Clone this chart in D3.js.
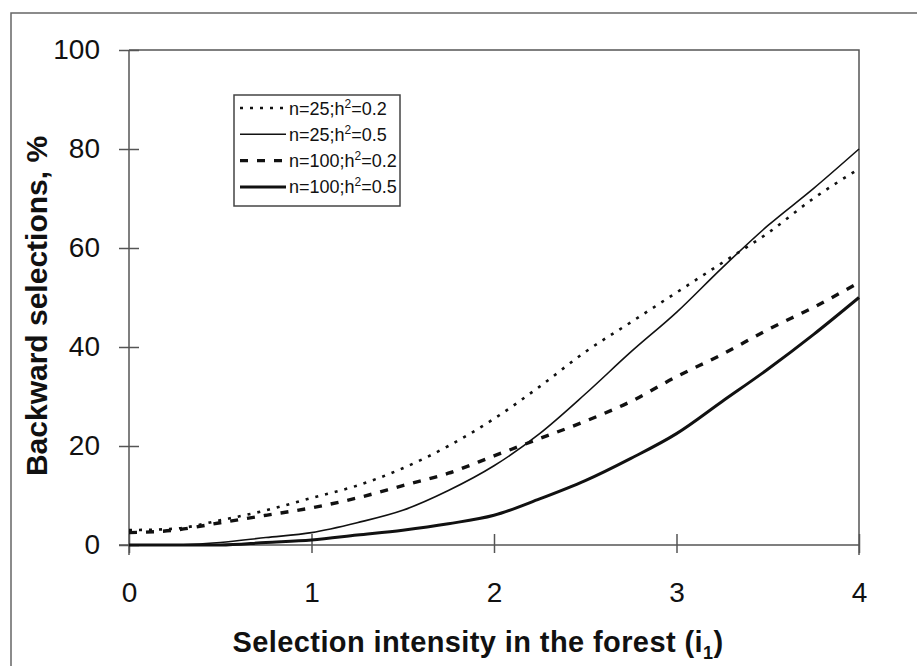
<!DOCTYPE html>
<html>
<head>
<meta charset="utf-8">
<script src="https://cdn.jsdelivr.net/npm/d3@7"></script>
<style>
  body { margin: 0; background: #fff; }
  text { font-family: "Liberation Sans", Arial, sans-serif; fill: #111; }
</style>
</head>
<body>
<div id="chart"></div>
<script>
// DATA
var xValues = [0, 0.25, 0.5, 0.75, 1, 1.25, 1.5, 1.75, 2, 2.25, 2.5, 2.75, 3, 3.25, 3.5, 3.75, 4];
var n25h02  = [3, 3.3, 5, 7, 9.5, 12, 15.5, 20, 25.5, 32, 39, 45, 51, 57, 63, 70, 76];
var n25h05  = [0, 0, 0.5, 1.5, 2.5, 4.5, 7, 11, 16, 22.5, 30.5, 39, 47, 56, 64.5, 72, 80];
var n100h02 = [2.5, 3, 4.5, 6, 7.5, 9.5, 12, 14.5, 18, 21.5, 25, 29, 34, 38.5, 43.5, 48, 53];
var n100h05 = [0, 0, 0, 0.5, 1, 2, 3, 4.3, 6, 9.3, 13, 17.5, 22.5, 29, 35.5, 42.5, 50];
var xTicks = [0, 1, 2, 3, 4];
var yTicks = [0, 20, 40, 60, 80, 100];

var series = [
  {n: "25",  h: "0.2", values: n25h02,  width: 2.6, dash: "3,7"},
  {n: "25",  h: "0.5", values: n25h05,  width: 1.6, dash: null},
  {n: "100", h: "0.2", values: n100h02, width: 3.4, dash: "8,9"},
  {n: "100", h: "0.5", values: n100h05, width: 3.0, dash: null}
];

// SIZES
var W = 917, H = 666;
var mLeft = 129, mRight = 859, mTop = 50, mBottom = 545;

var svg = d3.select("#chart").append("svg")
  .attr("width", W)
  .attr("height", H);

// outer frame (runs off the right and bottom edges)
svg.append("rect")
  .attr("x", 11).attr("y", 13)
  .attr("width", W + 20).attr("height", H + 20)
  .attr("fill", "none")
  .attr("stroke", "#666")
  .attr("stroke-width", 1.5);

var x = d3.scaleLinear().domain([0, 4]).range([mLeft, mRight]);
var y = d3.scaleLinear().domain([0, 100]).range([mBottom, mTop]);

// plot area top and right border
svg.append("path")
  .attr("d", "M" + mLeft + "," + mTop + "H" + mRight + "V" + (mBottom + 10))
  .attr("fill", "none")
  .attr("stroke", "#555")
  .attr("stroke-width", 1.5);

// y axis
var yAxis = svg.append("g")
  .attr("transform", "translate(" + mLeft + ",0)")
  .call(d3.axisLeft(y).tickValues(yTicks).tickSize(10).tickPadding(19).tickFormat(d3.format("d")));
yAxis.selectAll(".tick line").attr("x2", 10).attr("x1", -10);
// x axis
var xAxis = svg.append("g")
  .attr("transform", "translate(0," + mBottom + ")")
  .call(d3.axisBottom(x).tickValues(xTicks).tickSize(8).tickPadding(29).tickFormat(d3.format("d")));
xAxis.selectAll(".tick line").attr("y1", -11).attr("y2", 8);

[yAxis, xAxis].forEach(function(a) {
  a.select(".domain").remove();
  a.selectAll(".tick line").attr("stroke", "#555").attr("stroke-width", 1.5);
  a.selectAll(".tick text")
    .style("font-family", "'Liberation Sans', Arial, sans-serif")
    .style("font-size", "28px")
    .attr("fill", "#111");
});
// axis lines
svg.append("line")
  .attr("x1", mLeft).attr("x2", mLeft)
  .attr("y1", mTop).attr("y2", mBottom + 10)
  .attr("stroke", "#555").attr("stroke-width", 1.5);
svg.append("line")
  .attr("x1", mLeft - 10).attr("x2", mRight)
  .attr("y1", mBottom).attr("y2", mBottom)
  .attr("stroke", "#555").attr("stroke-width", 1.5);

// axis titles
var xTitle = svg.append("text")
  .attr("x", 478)
  .attr("y", 652)
  .attr("text-anchor", "middle")
  .style("font-size", "29px")
  .style("letter-spacing", "0.4px")
  .style("font-weight", "bold");
xTitle.append("tspan").text("Selection intensity in the forest (i");
xTitle.append("tspan").attr("dy", 7).style("font-size", "18px").text("1");
xTitle.append("tspan").attr("dy", -7).text(")");

svg.append("text")
  .attr("transform", "translate(47," + 306 + ") rotate(-90)")
  .attr("text-anchor", "middle")
  .style("font-size", "30px")
  .style("font-weight", "bold")
  .text("Backward selections, %");

// lines
var line = d3.line()
  .x(function(d) { return x(d[0]); })
  .y(function(d) { return y(d[1]); })
  .curve(d3.curveMonotoneX);

svg.selectAll(".series")
  .data(series)
  .enter()
  .append("path")
  .attr("class", "series")
  .attr("d", function(d) {
    return line(xValues.map(function(v, i) { return [v, d.values[i]]; }));
  })
  .attr("fill", "none")
  .attr("stroke", "#111")
  .attr("stroke-width", function(d) { return d.width; })
  .attr("stroke-dasharray", function(d) { return d.dash; });

// legend
var legend = svg.append("g").attr("transform", "translate(234,95)");
legend.append("rect")
  .attr("width", 166).attr("height", 111)
  .attr("fill", "#fff")
  .attr("stroke", "#444")
  .attr("stroke-width", 1.5);

var items = legend.selectAll(".item")
  .data(series)
  .enter()
  .append("g")
  .attr("class", "item")
  .attr("transform", function(d, i) { return "translate(0," + (13 + i * 26.3) + ")"; });

items.append("line")
  .attr("x1", 6).attr("x2", 52)
  .attr("stroke", "#111")
  .attr("stroke-width", function(d) { return d.width; })
  .attr("stroke-dasharray", function(d) { return d.dash; });

var labels = items.append("text")
  .attr("x", 55).attr("y", 6.5)
  .style("font-size", "18px");
labels.append("tspan").text(function(d) { return "n=" + d.n + ";h"; });
labels.append("tspan").attr("dy", -7).style("font-size", "12px").text("2");
labels.append("tspan").attr("dy", 7).text(function(d) { return "=" + d.h; });
</script>
</body>
</html>
